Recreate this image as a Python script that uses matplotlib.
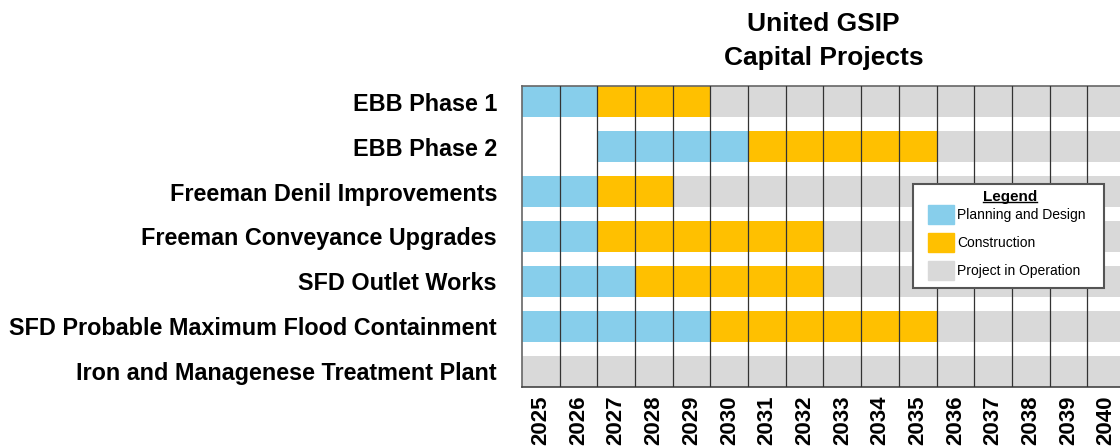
import matplotlib.pyplot as plt
from matplotlib.patches import Patch, Rectangle

plt.rcParams['font.family'] = ['Liberation Sans', 'DejaVu Sans']

years = list(range(2025, 2041))
projects = ["EBB Phase 1",
            "EBB Phase 2",
            "Freeman Denil Improvements",
            "Freeman Conveyance Upgrades",
            "SFD Outlet Works",
            "SFD Probable Maximum Flood Containment",
            "Iron and Managenese Treatment Plant"]

# first year of each phase (None = phase not shown)
plan_start = [2025, 2027, 2025, 2025, 2025, 2025, None]
build_start = [2027, 2031, 2027, 2027, 2028, 2030, None]
oper_start = [2030, 2036, 2029, 2033, 2033, 2036, 2025]

c_plan = '#87CEEB'
c_build = '#FFC000'
c_oper = '#D9D9D9'

W, H = 1120, 447
fig = plt.figure(figsize=(11.2, 4.47), dpi=100)
ax = fig.add_axes([522 / W, 1 - 387 / H, 603 / W, 301 / H])

bar_h = 0.69
for i in range(len(projects)):
    for j, yr in enumerate(years):
        color = None
        if oper_start[i] is not None and yr >= oper_start[i]:
            color = c_oper
        elif build_start[i] is not None and yr >= build_start[i]:
            color = c_build
        elif plan_start[i] is not None and yr >= plan_start[i]:
            color = c_plan
        if color is not None:
            ax.barh(i, 1, left=j, height=bar_h, color=color, linewidth=0)

for j in range(1, len(years)):
    ax.axvline(j, color='#333333', lw=0.9, zorder=3)

ax.set_xlim(0, len(years))
ax.set_ylim(len(projects) - 1 + bar_h / 2, -bar_h / 2)

ax.set_yticks(range(len(projects)))
ax.set_yticklabels(projects, fontsize=16.8, fontweight='bold')
ax.set_xticks([j + 0.5 for j in range(len(years))])
ax.set_xticklabels([str(y) for y in years], rotation=90, fontsize=16, fontweight='bold')
ax.tick_params(axis='both', length=0)
ax.tick_params(axis='y', pad=18)
ax.tick_params(axis='x', pad=6)

for s in ['top', 'left', 'bottom', 'right']:
    ax.spines[s].set_color('#666666')
    ax.spines[s].set_linewidth(1.2)
ax.spines['bottom'].set_color('#444444')

ax.set_title("United GSIP\nCapital Projects", fontsize=19, fontweight='bold',
             linespacing=1.55, pad=15)

# legend box
fig.add_artist(Rectangle((913 / W, 1 - 288 / H), 191 / W, 104 / H,
                         transform=fig.transFigure, facecolor='white',
                         edgecolor='#555555', lw=1.5, zorder=4))
ltitle = fig.text(1010 / W, 1 - 197 / H, 'Legend', fontsize=11, fontweight='bold',
                  ha='center', va='center', zorder=6)

handles = [Patch(color=c_plan, label='Planning and Design'),
           Patch(color=c_build, label='Construction'),
           Patch(color=c_oper, label='Project in Operation')]
leg = fig.legend(handles=handles, loc='upper left',
                 bbox_to_anchor=(928 / W, 1 - 205 / H),
                 fontsize=10, frameon=False,
                 handlelength=1.87, handleheight=1.7,
                 labelspacing=0.68, handletextpad=0.2, borderpad=0,
                 borderaxespad=0)
leg.set_zorder(5)

# underline the legend title
fig.canvas.draw()
bb = ltitle.get_window_extent().transformed(fig.transFigure.inverted())
fig.add_artist(plt.Line2D([bb.x0, bb.x1], [bb.y0 + 0.004, bb.y0 + 0.004],
                          color='black', lw=1, transform=fig.transFigure, zorder=6))

fig.savefig('out.png', dpi=100)
